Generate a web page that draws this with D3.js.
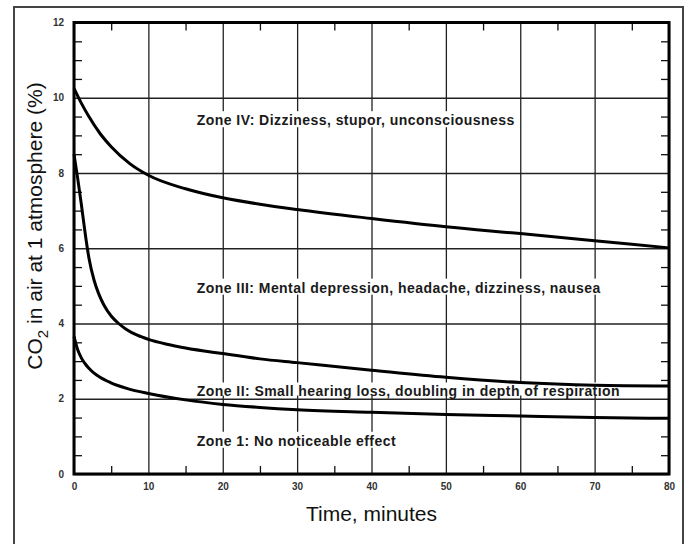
<!DOCTYPE html>
<html>
<head>
<meta charset="utf-8">
<script src="https://cdn.jsdelivr.net/npm/d3@7"></script>
<style>
  html, body { margin: 0; padding: 0; background: #fff; }
  svg { display: block; }
  text { font-family: "Liberation Sans", Arial, Helvetica, sans-serif; }
</style>
</head>
<body>
<script>
// Boundary curves between physiological zones (time in minutes, CO2 %)
const zone4Time = [0, 1, 2, 3.5, 5, 7.5, 10, 15, 20, 25, 30, 40, 50, 60, 70, 80];
const zone4Level = [10.25, 9.85, 9.5, 9.05, 8.7, 8.25, 7.94, 7.58, 7.34, 7.17, 7.03, 6.79, 6.57, 6.39, 6.2, 6.01];

const zone3Time = [0, 0.5, 1, 1.5, 2, 2.7, 3.3, 4, 5, 6, 7, 8.5, 10, 12.5, 15, 20, 25, 30, 40, 50, 60, 70, 80];
const zone3Level = [8.5, 7.85, 7.15, 6.4, 5.75, 5.15, 4.8, 4.5, 4.2, 4.0, 3.85, 3.69, 3.58, 3.45, 3.35, 3.2, 3.06, 2.96, 2.76, 2.57, 2.43, 2.36, 2.34];

const zone2Time = [0, 0.5, 1, 1.5, 2, 2.7, 3.5, 4.9, 7.2, 10, 15, 20, 25, 30, 40, 50, 60, 70, 80];
const zone2Level = [3.66, 3.3, 3.08, 2.93, 2.81, 2.68, 2.57, 2.43, 2.27, 2.14, 1.97, 1.85, 1.77, 1.71, 1.64, 1.58, 1.54, 1.50, 1.48];

const xTicks = [0, 10, 20, 30, 40, 50, 60, 70, 80];
const yTicks = [0, 2, 4, 6, 8, 10, 12];
const xMinor = [5, 15, 25, 35, 45, 55, 65, 75];
const yMinor = d3.range(0.5, 12, 0.5).filter(v => v % 2 !== 0);

const zoneLabels = [
  { text: "Zone IV: Dizziness, stupor, unconsciousness", y: 9.27 },
  { text: "Zone III: Mental depression, headache, dizziness, nausea", y: 4.82 },
  { text: "Zone II: Small hearing loss, doubling in depth of respiration", y: 2.06 },
  { text: "Zone 1: No noticeable effect", y: 0.75 }
];
const zoneLabelTime = 16.5;

const W = 689, H = 544;
const plot = { left: 74, right: 669, top: 22.5, bottom: 474 };

const svg = d3.select("body").append("svg").attr("width", W).attr("height", H);

// outer frame
svg.append("rect")
  .attr("x", 14).attr("y", 7).attr("width", 669).attr("height", 560)
  .attr("fill", "none").attr("stroke", "#444").attr("stroke-width", 2);

const x = d3.scaleLinear().domain([0, 80]).range([plot.left, plot.right]);
const y = d3.scaleLinear().domain([0, 12]).range([plot.bottom, plot.top]);
const pw = plot.right - plot.left, ph = plot.bottom - plot.top;

// vertical grid lines
svg.append("g")
  .attr("transform", `translate(0,${plot.bottom})`)
  .call(d3.axisBottom(x).tickValues(xTicks).tickSize(-ph).tickFormat(""))
  .call(g => g.select(".domain").remove())
  .call(g => g.selectAll("line").attr("stroke", "#222").attr("stroke-width", 1.3));

// zone labels with a white backing that interrupts the vertical grid
const labels = svg.append("g");
const labelNodes = zoneLabels.map(d =>
  labels.append("text")
    .attr("x", x(zoneLabelTime)).attr("y", y(d.y))
    .attr("font-size", 14).attr("letter-spacing", 0.45)
    .attr("font-weight", "bold").attr("fill", "#1a1a1a")
    .text(d.text)
);
labelNodes.forEach((t, i) => {
  const b = t.node().getBBox();
  const trimBottom = i === 2 ? 4 : 1;
  labels.insert("rect", "text")
    .attr("x", b.x - 2).attr("y", b.y - 1)
    .attr("width", b.width + 4).attr("height", b.height + 1 - trimBottom)
    .attr("fill", "#fff");
});

// horizontal grid lines
svg.append("g")
  .attr("transform", `translate(${plot.left},0)`)
  .call(d3.axisLeft(y).tickValues(yTicks).tickSize(-pw).tickFormat(""))
  .call(g => g.select(".domain").remove())
  .call(g => g.selectAll("line").attr("stroke", "#222").attr("stroke-width", 1.3));

labels.raise();

// minor ticks on all four sides, pointing inward
const minorStyle = g => {
  g.select(".domain").remove();
  g.selectAll("line").attr("stroke", "#111").attr("stroke-width", 1.3);
};
svg.append("g").attr("transform", `translate(${plot.left},0)`)
  .call(d3.axisLeft(y).tickValues(yMinor).tickSize(-8).tickFormat("")).call(minorStyle);
svg.append("g").attr("transform", `translate(${plot.right},0)`)
  .call(d3.axisRight(y).tickValues(yMinor).tickSize(-8).tickFormat("")).call(minorStyle);
svg.append("g").attr("transform", `translate(0,${plot.top})`)
  .call(d3.axisTop(x).tickValues(xMinor).tickSize(-8).tickFormat("")).call(minorStyle);
svg.append("g").attr("transform", `translate(0,${plot.bottom})`)
  .call(d3.axisBottom(x).tickValues(xMinor).tickSize(-8).tickFormat("")).call(minorStyle);

// boundary curves
const line = d3.line().x(d => x(d[0])).y(d => y(d[1])).curve(d3.curveMonotoneX);
[[zone4Time, zone4Level], [zone3Time, zone3Level], [zone2Time, zone2Level]].forEach(([t, v]) => {
  svg.append("path")
    .datum(t.map((tt, i) => [tt, v[i]]))
    .attr("d", line)
    .attr("fill", "none").attr("stroke", "#000").attr("stroke-width", 3)
    .attr("stroke-linejoin", "round");
});

// plot frame
svg.append("rect")
  .attr("x", plot.left).attr("y", plot.top).attr("width", pw).attr("height", ph)
  .attr("fill", "none").attr("stroke", "#000").attr("stroke-width", 3);

// tick labels
const labelStyle = g => {
  g.select(".domain").remove();
  g.selectAll("line").remove();
  g.selectAll("text").attr("font-family", "'Liberation Sans', Arial, sans-serif")
    .attr("font-size", 10).attr("font-weight", "bold").attr("fill", "#333");
};
svg.append("g").attr("transform", `translate(${plot.left - 10},0)`)
  .call(d3.axisLeft(y).tickValues(yTicks).tickSize(0).tickPadding(0)).call(labelStyle);
svg.append("g").attr("transform", `translate(0,${plot.bottom + 9})`)
  .call(d3.axisBottom(x).tickValues(xTicks).tickSize(0).tickPadding(0)).call(labelStyle);

// axis titles
svg.append("text")
  .attr("x", x(40)).attr("y", 521)
  .attr("text-anchor", "middle").attr("font-size", 21).attr("fill", "#111")
  .text("Time, minutes");

const yTitle = svg.append("text")
  .attr("transform", `translate(42,226) rotate(-90)`)
  .attr("text-anchor", "middle").attr("font-size", 21).attr("fill", "#111");
yTitle.append("tspan").text("CO");
yTitle.append("tspan").attr("font-size", 15).attr("dy", 6).text("2");
yTitle.append("tspan").attr("dy", -6).text(" in air at 1 atmosphere (%)");
</script>
</body>
</html>
